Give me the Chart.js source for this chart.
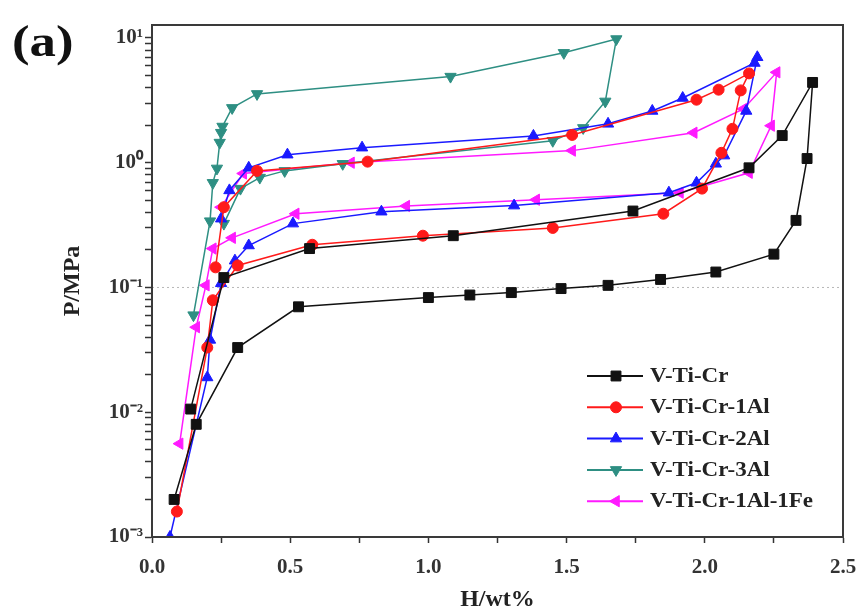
<!DOCTYPE html>
<html>
<head>
<meta charset="utf-8">
<script src="https://cdn.jsdelivr.net/npm/chart.js"></script>
<style>
  html, body { margin: 0; padding: 0; background: #fff; }
  #wrap { width: 861px; height: 614px; }
</style>
</head>
<body>
<div id="wrap"><canvas id="pct" width="861" height="614"></canvas></div>
<script>
// PCT loops, H content (wt%) vs pressure (MPa)
const names = ["V-Ti-Cr", "V-Ti-Cr-1Al", "V-Ti-Cr-2Al", "V-Ti-Cr-3Al", "V-Ti-Cr-1Al-1Fe"];

const vtcrH = [0.08, 0.16, 0.31, 0.53, 1.00, 1.15, 1.30, 1.48, 1.65, 1.84, 2.04, 2.25, 2.33, 2.37, 2.39, 2.28, 2.16, 1.74, 1.09, 0.57, 0.26, 0.14];
const vtcrP = [0.002, 0.008, 0.033, 0.07, 0.083, 0.087, 0.091, 0.098, 0.104, 0.116, 0.133, 0.185, 0.345, 1.08, 4.4, 1.65, 0.91, 0.41, 0.26, 0.205, 0.12, 0.0106];

const al1H = [0.09, 0.20, 0.22, 0.31, 0.58, 0.98, 1.45, 1.85, 1.99, 2.06, 2.10, 2.13, 2.16, 2.05, 1.97, 1.52, 0.78, 0.38, 0.26, 0.23];
const al1P = [0.0016, 0.033, 0.079, 0.15, 0.22, 0.26, 0.30, 0.39, 0.62, 1.2, 1.87, 3.8, 5.2, 3.85, 3.2, 1.67, 1.02, 0.86, 0.44, 0.145];

const al2H = [0.065, 0.20, 0.21, 0.25, 0.30, 0.35, 0.51, 0.83, 1.31, 1.87, 1.97, 2.04, 2.07, 2.15, 2.19, 2.18, 1.92, 1.81, 1.65, 1.38, 0.76, 0.49, 0.35, 0.28, 0.25];
const al2P = [0.001, 0.019, 0.038, 0.108, 0.164, 0.217, 0.325, 0.405, 0.453, 0.575, 0.69, 0.98, 1.14, 2.6, 7.0, 6.3, 3.3, 2.6, 2.05, 1.64, 1.32, 1.16, 0.91, 0.60, 0.356];

const al3H = [0.15, 0.21, 0.22, 0.235, 0.245, 0.25, 0.255, 0.29, 0.38, 1.08, 1.49, 1.68, 1.64, 1.56, 1.45, 0.69, 0.48, 0.39, 0.32, 0.26];
const al3P = [0.06, 0.34, 0.69, 0.9, 1.45, 1.74, 1.95, 2.75, 3.56, 4.9, 7.6, 9.8, 3.1, 1.9, 1.5, 0.98, 0.86, 0.76, 0.62, 0.325];

const alfeH = [0.10, 0.16, 0.195, 0.22, 0.29, 0.52, 0.92, 1.39, 1.91, 2.16, 2.24, 2.26, 2.14, 1.96, 1.52, 0.72, 0.33, 0.25];
const alfeP = [0.0056, 0.048, 0.104, 0.205, 0.25, 0.39, 0.45, 0.505, 0.575, 0.83, 1.98, 5.3, 2.7, 1.74, 1.25, 1.0, 0.82, 0.44];

const xLabelled = [0, 0.5, 1, 1.5, 2, 2.5];
const yDecades = [0.001, 0.01, 0.1, 1, 10];
const yDecadeLabels = ["10\u207B\u00B3", "10\u207B\u00B2", "10\u207B\u00B9", "10\u2070", "10\u00B9"];
const refPressure = 0.1;

const colors = ["#111111", "#ff1a1a", "#1a1aff", "#2e8f83", "#ff1aff"];
const markers = [
  { style: "rect", rot: 0, r: 7 },
  { style: "circle", rot: 0, r: 5.5 },
  { style: "triangle", rot: 0, r: 6.5 },
  { style: "triangle", rot: 180, r: 6.5 },
  { style: "triangle", rot: 270, r: 6.5 },
];

const serif = "'Liberation Serif', 'Times New Roman', serif";

function pts(h, p) {
  return h.map((v, i) => ({ x: v, y: p[i] }));
}

const loops = [pts(vtcrH, vtcrP), pts(al1H, al1P), pts(al2H, al2P), pts(al3H, al3P), pts(alfeH, alfeP)];

const datasets = loops.map((d, i) => ({
  label: names[i],
  data: d,
  showLine: true,
  borderColor: colors[i],
  backgroundColor: colors[i],
  borderWidth: 1.5,
  pointStyle: markers[i].style,
  pointRotation: markers[i].rot,
  pointRadius: markers[i].r,
  pointBorderWidth: 1,
}));

datasets.push({
  label: "",
  data: [{ x: 0, y: refPressure }, { x: 2.5, y: refPressure }],
  showLine: true,
  borderColor: "#b8b8b8",
  borderWidth: 1,
  borderDash: [2, 3],
  pointRadius: 0,
});

const framePlugin = {
  id: "frame",
  afterDatasetsDraw(chart) {
    const { ctx, chartArea: a } = chart;
    ctx.save();
    ctx.strokeStyle = "#3a3a3a";
    ctx.lineWidth = 2;
    ctx.strokeRect(a.left, a.top, a.right - a.left, a.bottom - a.top);
    ctx.restore();
  },
};

const legendPlugin = {
  id: "innerLegend",
  afterDraw(chart) {
    const { ctx, chartArea: a } = chart;
    const x0 = a.right - 256;
    const y0 = a.bottom - 161;
    chart.data.datasets.forEach((ds, i) => {
      if (!ds.label) return;
      const y = y0 + i * 31.3;
      ctx.save();
      ctx.strokeStyle = ds.borderColor;
      ctx.fillStyle = ds.backgroundColor;
      ctx.lineWidth = 2;
      ctx.beginPath();
      ctx.moveTo(x0, y);
      ctx.lineTo(x0 + 56, y);
      ctx.stroke();
      ctx.lineWidth = 1;
      Chart.helpers.drawPoint(ctx, {
        pointStyle: ds.pointStyle,
        rotation: ds.pointRotation,
        radius: ds.pointRadius,
        borderWidth: 1,
      }, x0 + 29, y);
      ctx.fillStyle = "#222";
      ctx.font = "bold 20px " + serif;
      ctx.textBaseline = "middle";
      ctx.translate(x0 + 63, y + 1);
      ctx.scale(1.15, 1);
      ctx.fillText(ds.label, 0, 0);
      ctx.restore();
    });

    // panel tag
    ctx.save();
    ctx.fillStyle = "#111";
    ctx.font = "bold 44px " + serif;
    ctx.textBaseline = "alphabetic";
    ctx.translate(12, 56);
    ctx.scale(1.2, 1);
    ctx.fillText("(a)", 0, 0);
    ctx.restore();
  },
};

new Chart(document.getElementById("pct").getContext("2d"), {
  type: "scatter",
  data: { datasets },
  options: {
    responsive: false,
    animation: false,
    devicePixelRatio: 1,
    layout: { padding: { top: 25, right: 18, left: 0, bottom: 0 } },
    plugins: { legend: { display: false }, tooltip: { enabled: false } },
    scales: {
      x: {
        type: "linear",
        min: 0,
        max: 2.5,
        afterFit(s) {
          s.height = 77;
          s.paddingLeft = 0;
          s.paddingRight = 0;
        },
        ticks: {
          stepSize: 0.25,
          autoSkip: false,
          maxRotation: 0,
          padding: 12,
          color: "#333",
          font: { family: serif, weight: "bold", size: 21 },
          callback: (v) => (xLabelled.some((t) => Math.abs(t - v) < 1e-6) ? v.toFixed(1) : ""),
        },
        grid: { drawOnChartArea: false, tickLength: 6, tickColor: "#333", tickWidth: 1.5 },
        border: { color: "#333", width: 2 },
        title: {
          display: true,
          text: "H/wt%",
          color: "#222",
          font: { family: serif, weight: "bold", size: 24 },
          padding: { top: 0, bottom: 0 },
        },
      },
      y: {
        type: "logarithmic",
        min: 0.001,
        max: 12.7,
        afterFit(s) { s.width = 152; },
        afterBuildTicks(s) {
          const list = [];
          yDecades.forEach((d) => {
            for (let m = 1; m <= 9; m++) {
              const v = m * d;
              if (v <= s.max) list.push({ value: v });
            }
          });
          s.ticks = list;
        },
        ticks: {
          autoSkip: false,
          padding: 2,
          color: "#333",
          font: { family: serif, weight: "bold", size: 21 },
          callback: (v) => {
            const k = yDecades.findIndex((d) => Math.abs(v / d - 1) < 1e-6);
            return k >= 0 ? yDecadeLabels[k] : "";
          },
        },
        grid: { drawOnChartArea: false, tickLength: 7, tickColor: "#333", tickWidth: 1.5 },
        border: { color: "#333", width: 2 },
        title: {
          display: true,
          text: "P/MPa",
          color: "#222",
          font: { family: serif, weight: "bold", size: 24 },
          padding: { top: 58, bottom: 0 },
        },
      },
    },
  },
  plugins: [framePlugin, legendPlugin],
});
</script>
</body>
</html>
